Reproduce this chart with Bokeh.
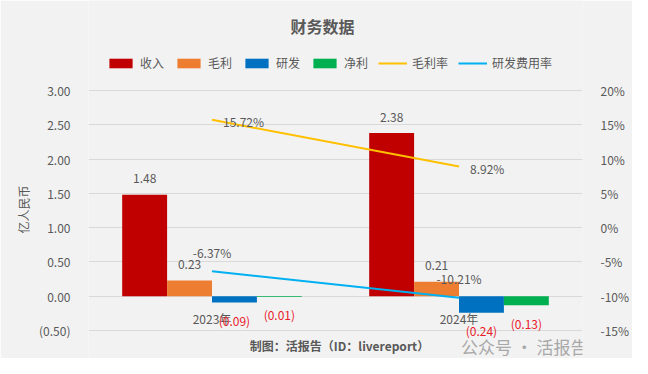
from bokeh.plotting import figure
from bokeh.models import (ColumnDataSource, FactorRange, Range1d, LinearAxis, Legend, LegendItem,
                          Title, Label, FixedTicker, CustomJSTickFormatter)
from bokeh.transform import dodge
from bokeh.embed import file_html
from bokeh.resources import INLINE
from bokeh.core.properties import value

# ---- data ----
years = ["2023年", "2024年"]
revenue = [1.48, 2.38]
gross_profit = [0.23, 0.21]
rnd = [-0.09, -0.24]
net_profit = [-0.01, -0.13]
gross_margin = [15.72, 8.92]      # %
rnd_ratio = [-6.37, -10.21]       # %
left_ticks = [-0.5, 0.0, 0.5, 1.0, 1.5, 2.0, 2.5, 3.0]
right_ticks = [-15, -10, -5, 0, 5, 10, 15, 20]
series_names = ["收入", "毛利", "研发", "净利", "毛利率", "研发费用率"]

FONT = "Noto Sans CJK SC"
GRAY = "#595959"
RED = "#e8202a"
colors = ["#C00000", "#ED7D31", "#0070C0", "#00B050", "#FFC000", "#00B0F0"]

W, H = 632, 358
FR_L, FR_R = 88, 42          # frame borders (px)
AX_TOP_PX, AX_BOT_PX = 90, 330   # where 3.00 / -0.50 sit


def fmt(v):
    return f"{v:.2f}" if v >= 0 else f"({abs(v):.2f})"


# the frame spans the whole height, so title / legend / footer can live inside it
upp = (left_ticks[-1] - left_ticks[0]) / (AX_BOT_PX - AX_TOP_PX)
y_top = left_ticks[-1] + AX_TOP_PX * upp
y_bot = left_ticks[0] - (H - AX_BOT_PX) * upp
k = (right_ticks[-1] - right_ticks[0]) / (left_ticks[-1] - left_ticks[0])
p_top = right_ticks[-1] + (y_top - left_ticks[-1]) * k
p_bot = right_ticks[0] + (y_bot - left_ticks[0]) * k

src = ColumnDataSource(dict(
    year=years,
    rev=revenue, gp=gross_profit, rd=rnd, np_=net_profit,
    gm=gross_margin, rr=rnd_ratio,
    gm_t=[f"{v:.2f}%" for v in gross_margin],
    rr_t=[f"{v:.2f}%" for v in rnd_ratio],
    zero=[0, 0],
))

p = figure(width=W, height=H, x_range=FactorRange(factors=years), y_range=Range1d(y_bot, y_top),
           output_backend="svg", toolbar_location=None, x_axis_location=None, title_location=None,
           min_border_left=FR_L, min_border_right=FR_R, min_border_top=0, min_border_bottom=0,
           background_fill_color="#f2f2f2", border_fill_color="#f2f2f2", outline_line_color=None)
p.extra_y_ranges = {"pct": Range1d(p_bot, p_top)}

# grid
p.ygrid.grid_line_color = "#d9d9d9"
p.ygrid.grid_line_width = 1
p.ygrid.ticker = FixedTicker(ticks=left_ticks)
p.xgrid.visible = False

# left axis (negative values shown in accounting style)
ax = p.yaxis[0]
ax.ticker = FixedTicker(ticks=left_ticks)
ax.formatter = CustomJSTickFormatter(
    code="return tick < 0 ? '(' + Math.abs(tick).toFixed(2) + ')' : tick.toFixed(2);")

# right axis
rax = LinearAxis(y_range_name="pct", ticker=FixedTicker(ticks=right_ticks),
                 formatter=CustomJSTickFormatter(code="return tick + '%';"))
p.add_layout(rax, "right")

for a in (ax, rax):
    a.axis_line_color = None
    a.major_tick_line_color = None
    a.minor_tick_line_color = None
    a.major_label_text_font = FONT
    a.major_label_text_font_size = "12px"
    a.major_label_text_color = GRAY
ax.major_label_standoff = 12
rax.major_label_standoff = 12

# y-axis title (rotated), placed at the height of the value scale
p.add_layout(Title(text="亿人民币", align="left", offset=H - 233, standoff=9, text_font=FONT,
                   text_font_size="12px", text_font_style="normal", text_color=GRAY), "left")

# bars
bw = 1 / 5.5
offs = [(i - 1.5) * bw for i in range(4)]
fields = ["rev", "gp", "rd", "np_"]
bar_renderers = []
for f, o, c in zip(fields, offs, colors[:4]):
    r = p.vbar(x=dodge("year", o, range=p.x_range), top=f, bottom=0, width=bw, source=src,
               fill_color=c, line_color=None)
    bar_renderers.append(r)

# category labels at zero line
p.text(x="year", y="zero", text="year", source=src, text_font=value(FONT), text_font_size="12px",
       text_color=GRAY, text_align="center", text_baseline="middle", y_offset=22)

# bar value labels
for f, o, vals in zip(fields, offs, [revenue, gross_profit, rnd, net_profit]):
    s = ColumnDataSource(dict(
        year=years, v=vals, t=[fmt(v) for v in vals],
        yo=[-16 if v >= 0 else 18 for v in vals],
        c=[GRAY if v >= 0 else RED for v in vals],
    ))
    p.text(x=dodge("year", o, range=p.x_range), y="v", text="t", source=s, y_offset="yo",
           text_color="c", text_font=value(FONT), text_font_size="12px",
           text_align="center", text_baseline="middle")

# lines
r_gm = p.line(x="year", y="gm", source=src, y_range_name="pct", line_color=colors[4], line_width=2)
r_rr = p.line(x="year", y="rr", source=src, y_range_name="pct", line_color=colors[5], line_width=2)

p.text(x="year", y="gm", text="gm_t", source=src, y_range_name="pct", x_offset=11, y_offset=2,
       text_color=GRAY, text_font=value(FONT), text_font_size="12px",
       text_align="left", text_baseline="middle")
p.text(x="year", y="rr", text="rr_t", source=src, y_range_name="pct", y_offset=-19,
       text_color=GRAY, text_font=value(FONT), text_font_size="12px",
       text_align="center", text_baseline="middle")

# legend inside the (tall) frame, near the top
items = [LegendItem(label=n, renderers=[r]) for n, r in zip(series_names, bar_renderers + [r_gm, r_rr])]
legend = Legend(items=items, orientation="horizontal", location=(18, H - 71),
                glyph_width=29, glyph_height=12, label_height=16, label_standoff=5, spacing=10,
                padding=0, margin=0, border_line_color=None, background_fill_alpha=0,
                label_text_font=FONT, label_text_font_size="12px", label_text_color=GRAY)
p.add_layout(legend)

# chart title
p.add_layout(Label(x=322 - FR_L, y=H - 25, x_units="screen", y_units="screen", text="财务数据",
                   text_align="center", text_baseline="middle", text_font=FONT,
                   text_font_size="16px", text_font_style="bold", text_color=GRAY))

# footer
p.add_layout(Label(x=339 - FR_L, y=H - 345, x_units="screen", y_units="screen",
                   text="制图：活报告（ID：livereport）", text_align="center", text_baseline="middle",
                   text_font=FONT, text_font_size="12px", text_font_style="bold", text_color=GRAY))

# platform watermark
p.add_layout(Label(x=W - FR_R - FR_L - 3, y=H - 346, x_units="screen", y_units="screen",
                   text="公众号 · 活报告", text_align="right", text_baseline="middle",
                   text_font=FONT, text_font_size="17px", text_color="#a8a8a8"))

open("out.html", "w").write(file_html(p, INLINE))
